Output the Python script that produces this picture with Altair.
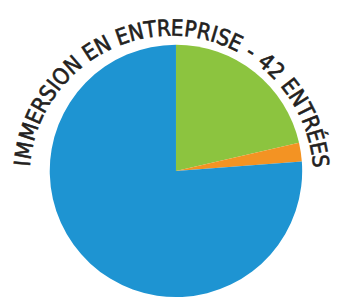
import math
import altair as alt
import pandas as pd

# Pie data
categories = ["Catégorie A", "Catégorie B", "Catégorie C"]
values = [9, 1, 32]
colors = ["#8CC43F", "#F39323", "#1E94D2"]

# Curved title
title_text = "IMMERSION EN ENTREPRISE - 42 ENTRÉES"
char_widths = {"I": 0.28, "M": 0.78, "E": 0.52, "R": 0.58, "S": 0.53, "O": 0.66,
               "N": 0.66, "T": 0.52, "P": 0.55, " ": 0.28, "-": 0.38, "4": 0.56,
               "2": 0.56, "É": 0.52}
arc_start_deg = -84.4
arc_end_deg = 83.5

pie_df = pd.DataFrame({"cat": categories, "value": values, "order": [0, 1, 2]})

chars = list(title_text)
ws = [char_widths.get(c, 0.55) for c in chars]
centers = []
acc = 0.0
for w in ws:
    centers.append(acc + w / 2)
    acc += w
c0, c1 = centers[0], centers[-1]
angles = [arc_start_deg + (c - c0) / (c1 - c0) * (arc_end_deg - arc_start_deg) for c in centers]
text_df = pd.DataFrame({
    "ch": chars,
    "theta": [math.radians(a) for a in angles],
    "rot": angles,
})

pie = alt.Chart(pie_df).mark_arc(outerRadius=127, stroke=None).encode(
    theta=alt.Theta("value:Q", stack=True),
    order=alt.Order("order:Q"),
    color=alt.Color("cat:N", scale=alt.Scale(domain=categories, range=colors), legend=None),
    x=alt.value(169),
    y=alt.value(163),
)

title = alt.Chart(text_df).mark_text(
    radius=143, baseline="alphabetic", align="center",
    font="DejaVu Sans Condensed, Liberation Sans Narrow, Roboto",
    fontSize=22.5, fontWeight="normal", color="#231F20",
    stroke="#231F20", strokeWidth=0.6,
).encode(
    theta=alt.Theta("theta:Q", scale=None),
    angle=alt.Angle("rot:Q", scale=None),
    text="ch:N",
    x=alt.value(164.5),
    y=alt.value(170),
)

chart = alt.layer(pie, title).properties(
    width=324, height=287, padding=0
).configure_view(stroke=None)

chart.save("out.html", embed_options={"renderer": "svg", "actions": False})
